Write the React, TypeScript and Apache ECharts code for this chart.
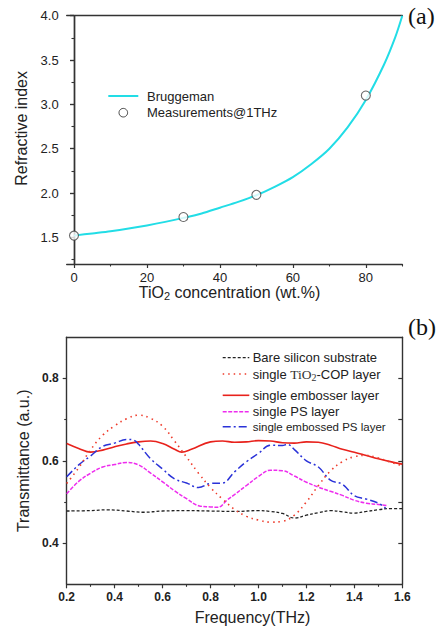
import React, { useEffect, useRef } from "react";
import * as echarts from "echarts";

// ---------- Panel (a) data ----------
const concTicks = [0, 20, 40, 60, 80];
const concMinorTicks = [10, 30, 50, 70, 90];
const indexTicks = [1.5, 2.0, 2.5, 3.0, 3.5, 4.0];
const indexMinorTicks = [1.25, 1.75, 2.25, 2.75, 3.25, 3.75];
const bruggemanConc = [0, 5, 10, 15, 20, 25, 30, 35, 40, 45, 50, 55, 60, 65, 70, 75, 80, 85, 88, 90];
const bruggemanIndex = [1.52, 1.545, 1.57, 1.6, 1.635, 1.675, 1.72, 1.77, 1.835, 1.9, 1.975, 2.07, 2.18, 2.325, 2.5, 2.74, 3.05, 3.45, 3.75, 4.0];
const measuredConc = [0, 30, 50, 80];
const measuredIndex = [1.52, 1.73, 1.98, 3.1];

// ---------- Panel (b) data ----------
const freqTicks = [0.2, 0.4, 0.6, 0.8, 1.0, 1.2, 1.4, 1.6];
const freqMinorTicks = [0.3, 0.5, 0.7, 0.9, 1.1, 1.3, 1.5];
const transTicks = [0.4, 0.6, 0.8];
const transRightTicks = [0.4, 0.5, 0.6, 0.7, 0.8];
const transMinorTicks = [0.5, 0.7];

const bareFreq = [0.2, 0.3, 0.37, 0.45, 0.52, 0.6, 0.7, 0.8, 0.9, 1.0, 1.05, 1.1, 1.15, 1.2, 1.25, 1.3, 1.35, 1.4, 1.45, 1.5, 1.55, 1.6];
const bareTrans = [0.478, 0.479, 0.481, 0.478, 0.475, 0.478, 0.479, 0.478, 0.477, 0.479, 0.477, 0.472, 0.461, 0.468, 0.474, 0.479, 0.476, 0.473, 0.477, 0.481, 0.484, 0.484];

const copFreq = [0.2, 0.25, 0.3, 0.35, 0.4, 0.45, 0.5, 0.55, 0.6, 0.65, 0.7, 0.75, 0.8, 0.85, 0.9, 0.95, 1.0, 1.05, 1.1, 1.15, 1.2, 1.25, 1.3, 1.35, 1.4, 1.45, 1.5, 1.55, 1.6];
const copTrans = [0.545, 0.583, 0.627, 0.662, 0.685, 0.702, 0.711, 0.703, 0.684, 0.648, 0.609, 0.57, 0.535, 0.507, 0.482, 0.465, 0.456, 0.451, 0.453, 0.468, 0.5, 0.54, 0.575, 0.598, 0.61, 0.613, 0.607, 0.597, 0.588];

const embFreq = [0.2, 0.25, 0.3, 0.35, 0.4, 0.45, 0.5, 0.55, 0.6, 0.65, 0.68, 0.72, 0.8, 0.85, 0.9, 0.95, 1.0, 1.05, 1.1, 1.15, 1.2, 1.25, 1.3, 1.35, 1.4, 1.45, 1.5, 1.55, 1.6];
const embTrans = [0.642, 0.63, 0.621, 0.626, 0.634, 0.641, 0.646, 0.648, 0.642, 0.628, 0.621, 0.628, 0.646, 0.648, 0.645, 0.646, 0.649, 0.648, 0.644, 0.643, 0.646, 0.645, 0.638, 0.628, 0.621, 0.613, 0.605, 0.598, 0.592];

const psFreq = [0.2, 0.25, 0.3, 0.35, 0.4, 0.45, 0.5, 0.55, 0.6, 0.65, 0.7, 0.75, 0.8, 0.83, 0.87, 0.9, 0.95, 1.0, 1.05, 1.1, 1.15, 1.2, 1.25, 1.3, 1.35, 1.4, 1.45, 1.5, 1.54];
const psTrans = [0.52, 0.55, 0.57, 0.585, 0.591, 0.596, 0.59, 0.57, 0.549, 0.527, 0.508, 0.491, 0.488, 0.487, 0.505, 0.518, 0.54, 0.562, 0.577, 0.576, 0.563, 0.548, 0.536, 0.526, 0.516, 0.504, 0.497, 0.494, 0.491];

const embPsFreq = [0.2, 0.25, 0.3, 0.35, 0.4, 0.45, 0.48, 0.5, 0.55, 0.6, 0.65, 0.7, 0.75, 0.8, 0.85, 0.9, 0.95, 1.0, 1.05, 1.1, 1.12, 1.15, 1.2, 1.25, 1.3, 1.35, 1.4, 1.45, 1.5, 1.53];
const embPsTrans = [0.561, 0.59, 0.612, 0.635, 0.643, 0.652, 0.65, 0.64, 0.605, 0.58, 0.556, 0.546, 0.535, 0.545, 0.546, 0.573, 0.598, 0.618, 0.638, 0.637, 0.64, 0.627, 0.6, 0.585, 0.553, 0.543, 0.515, 0.507, 0.497, 0.485];

const seriesNamesB = [
  "Bare silicon substrate",
  "single TiO2-COP layer",
  "single embosser layer",
  "single PS layer",
  "single embossed PS layer",
];

const SANS = "'Liberation Sans', Arial, sans-serif";
const SERIF = "'Liberation Serif', 'Times New Roman', serif";
const AXIS = "#333333";

const zip = (xs: number[], ys: number[]) => xs.map((x, i) => [x, ys[i]]);

const colorsB = ["#222222", "#ee3a2a", "#e8221c", "#ee2cee", "#2a32d8"];
const dashesB: any[] = [[3, 2], [1.5, 4], "solid", [4, 1.5], [8, 3, 2, 3]];
const widthsB = [1.3, 1.6, 1.6, 1.5, 1.5];
const legendRowsY = [357.7, 374, 395.3, 411.7, 426.7];
const legendFont = [13, 13, 13, 13, 11.5];

export default function App() {
  const ref = useRef<HTMLDivElement>(null);
  useEffect(() => {
    if (!ref.current) return;
    const chart = echarts.init(ref.current, undefined, { renderer: "svg" });

    const G0 = { left: 66.7, top: 15.7, width: 335.6, height: 248.3 };
    const G1 = { left: 66.7, top: 337.3, width: 335.6, height: 247 };

    const line = { show: true, lineStyle: { color: AXIS, width: 1.4 } };
    const noLine = { show: false };

    const mainX = (gi: number, min: number, max: number, ticks: number[], fmt: (v: number) => string, bold: boolean, name: string, nameGap: number, extra: any) => ({
      type: "value", gridIndex: gi, position: "bottom", min, max,
      axisLine: line, splitLine: { show: false },
      axisTick: { show: true, inside: false, length: 4, customValues: ticks, lineStyle: { color: AXIS, width: 1.2 } },
      axisLabel: { show: true, customValues: ticks, formatter: fmt, margin: 7, color: "#222", fontFamily: SANS, fontSize: bold ? 12 : 13, fontWeight: bold ? "bold" : "normal" },
      name, nameLocation: "middle", nameGap,
      nameTextStyle: { fontFamily: SANS, fontSize: 16, color: "#222", ...extra },
    });
    const minorX = (gi: number, min: number, max: number, ticks: number[]) => ({
      type: "value", gridIndex: gi, position: "bottom", min, max,
      axisLine: noLine, splitLine: { show: false }, axisLabel: { show: false },
      axisTick: { show: true, inside: false, length: 2.5, customValues: ticks, lineStyle: { color: AXIS, width: 1.1 } },
    });
    const topX = (gi: number, min: number, max: number) => ({
      type: "value", gridIndex: gi, position: "top", min, max,
      axisLine: line, splitLine: { show: false }, axisLabel: { show: false }, axisTick: { show: false },
    });
    const mainY = (gi: number, min: number, max: number, ticks: number[], fmt: (v: number) => string, bold: boolean, name: string, nameGap: number, extra: any) => ({
      type: "value", gridIndex: gi, position: "left", min, max,
      axisLine: line, splitLine: { show: false },
      axisTick: { show: true, inside: false, length: 4, customValues: ticks, lineStyle: { color: AXIS, width: 1.2 } },
      axisLabel: { show: true, customValues: ticks, formatter: fmt, margin: 8, color: "#222", fontFamily: SANS, fontSize: bold ? 12 : 13, fontWeight: bold ? "bold" : "normal" },
      name, nameLocation: "middle", nameGap,
      nameTextStyle: { fontFamily: SANS, fontSize: 16, color: "#222", ...extra },
    });
    const minorY = (gi: number, min: number, max: number, ticks: number[]) => ({
      type: "value", gridIndex: gi, position: "left", min, max,
      axisLine: noLine, splitLine: { show: false }, axisLabel: { show: false },
      axisTick: { show: true, inside: false, length: 2.5, customValues: ticks, lineStyle: { color: AXIS, width: 1.1 } },
    });
    const rightY = (gi: number, min: number, max: number, ticks: number[]) => ({
      type: "value", gridIndex: gi, position: "right", min, max,
      axisLine: line, splitLine: { show: false }, axisLabel: { show: false },
      axisTick: { show: true, inside: true, length: 4, customValues: ticks, lineStyle: { color: AXIS, width: 1.2 } },
    });

    const f1 = (v: number) => v.toFixed(1);
    const f0 = (v: number) => String(Math.round(v));

    const xAxis = [
      mainX(0, -2, 90, concTicks, f0, false, "TiO{sub|2} concentration (wt.%)", 18, {
        rich: { sub: { fontFamily: SANS, fontSize: 11, color: "#222", verticalAlign: "bottom", padding: [6, 0, 0, 0] } },
        padding: [0, 10, 0, 0],
      }),
      minorX(0, -2, 90, concMinorTicks),
      topX(0, -2, 90),
      mainX(1, 0.2, 1.6, freqTicks, f1, true, "Frequency(THz)", 25, { padding: [0, 0, 0, 36] }),
      minorX(1, 0.2, 1.6, freqMinorTicks),
      topX(1, 0.2, 1.6),
    ];
    const yAxis = [
      mainY(0, 1.2, 4.0, indexTicks, f1, false, "Refractive index", 33, { padding: [0, 0, 0, 23] }),
      minorY(0, 1.2, 4.0, indexMinorTicks),
      rightY(0, 1.2, 4.0, indexTicks),
      mainY(1, 0.3, 0.9, transTicks, f1, true, "Transmittance (a.u.)", 33, {}),
      minorY(1, 0.3, 0.9, transMinorTicks),
      rightY(1, 0.3, 0.9, transRightTicks),
    ];

    const seriesB = [
      zip(bareFreq, bareTrans),
      zip(copFreq, copTrans),
      zip(embFreq, embTrans),
      zip(psFreq, psTrans),
      zip(embPsFreq, embPsTrans),
    ].map((data, i) => ({
      type: "line", name: seriesNamesB[i], xAxisIndex: 3, yAxisIndex: 3,
      data, smooth: 0.4, showSymbol: false, symbol: "none",
      lineStyle: { color: colorsB[i], width: widthsB[i], type: dashesB[i] },
      z: i === 1 ? 3 : 2,
    }));

    const graphic: any[] = [
      // panel labels
      { type: "text", left: 408, top: 4, style: { text: "(a)", font: `24px ${SERIF}`, fill: "#111" } },
      { type: "text", left: 408, top: 315, style: { text: "(b)", font: `24px ${SERIF}`, fill: "#111" } },
      // legend (a)
      { type: "line", shape: { x1: 108.3, y1: 96, x2: 138.3, y2: 96 }, style: { stroke: "#22dde6", lineWidth: 2 } },
      { type: "text", x: 147, y: 96, style: { text: "Bruggeman", fontFamily: SANS, fontSize: 13, fill: "#222", verticalAlign: "middle" } },
      { type: "circle", shape: { cx: 123.3, cy: 112.7, r: 4.3 }, style: { fill: "#fff", stroke: "#444", lineWidth: 1 } },
      { type: "text", x: 147, y: 112.7, style: { text: "Measurements@1THz", fontFamily: SANS, fontSize: 13, fill: "#222", verticalAlign: "middle" } },
    ];
    seriesNamesB.forEach((nm, i) => {
      const y = legendRowsY[i];
      graphic.push({
        type: "line", shape: { x1: 222.7, y1: y, x2: 249.3, y2: y },
        style: { stroke: colorsB[i], lineWidth: widthsB[i], lineDash: dashesB[i] === "solid" ? null : dashesB[i] },
      });
      if (i === 1) {
        graphic.push({
          type: "text", x: 252.7, y,
          style: {
            text: "single {ser|TiO}{sub|2}-COP layer",
            fontFamily: SANS, fontSize: legendFont[i], fill: "#222", verticalAlign: "middle",
            rich: {
              ser: { fontFamily: SERIF, fontSize: 13.5, fill: "#333" },
              sub: { fontFamily: SERIF, fontSize: 10, fill: "#333", verticalAlign: "bottom", padding: [6, 0, 0, 0] },
            },
          },
        });
      } else {
        graphic.push({
          type: "text", x: 252.7, y,
          style: { text: nm, fontFamily: SANS, fontSize: legendFont[i], fill: "#222", verticalAlign: "middle" },
        });
      }
    });

    chart.setOption({
      animation: false,
      backgroundColor: "#ffffff",
      grid: [
        { ...G0, containLabel: false },
        { ...G1, containLabel: false },
      ],
      xAxis,
      yAxis,
      series: [
        {
          type: "line", name: "Bruggeman", xAxisIndex: 0, yAxisIndex: 0,
          data: zip(bruggemanConc, bruggemanIndex), smooth: 0.3, showSymbol: false, symbol: "none",
          lineStyle: { color: "#22dde6", width: 2 },
        },
        {
          type: "scatter", name: "Measurements@1THz", xAxisIndex: 0, yAxisIndex: 0,
          data: zip(measuredConc, measuredIndex), symbol: "circle", symbolSize: 9,
          itemStyle: { color: "#ffffff", borderColor: "#444", borderWidth: 1.1 }, z: 5,
        },
        ...seriesB,
      ],
      graphic,
    });
    return () => chart.dispose();
  }, []);
  return <div ref={ref} style={{ position: "absolute", left: 0, top: 0, width: 438, height: 629, background: "#fff" }} />;
}
